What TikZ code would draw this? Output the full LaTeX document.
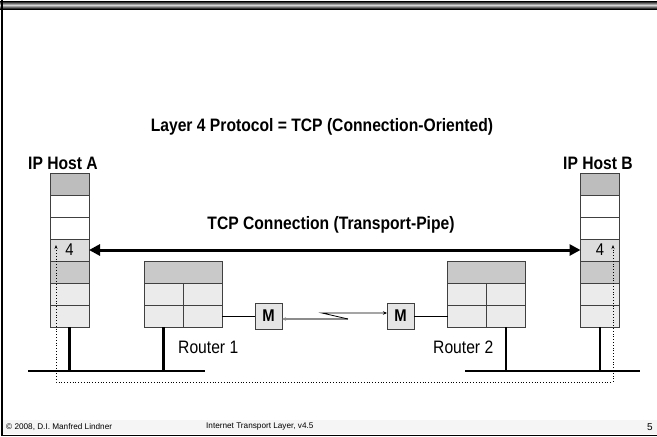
\documentclass[tikz,border=0pt]{standalone}
\usepackage{fontspec}
\setmainfont{Liberation Sans}
\newfontfamily\narrowfont[FakeStretch=0.87]{Liberation Sans}
\usetikzlibrary{chains, positioning, arrows.meta}

\definecolor{celldark}{HTML}{BDBDBD}
\definecolor{cellmid}{HTML}{C9C9C9}
\definecolor{cellfour}{HTML}{DDDDDD}
\definecolor{celllight}{HTML}{EBEBEB}

\tikzset{
  cell/.style={draw=black!75, line width=0.8pt, minimum width=39pt, minimum height=22pt,
    inner sep=0pt, outer sep=0pt, font=\narrowfont\fontsize{17}{17}\selectfont},
  mbox/.style={cell, fill=black!10, minimum width=27pt, minimum height=26pt,
    font=\narrowfont\bfseries\fontsize{17}{17}\selectfont},
  wire/.style={line width=2.5pt},
  lbl/.style={font=\narrowfont\bfseries\fontsize{18}{20}\selectfont, inner sep=0pt},
  rlbl/.style={font=\narrowfont\fontsize{18}{20}\selectfont, inner sep=0pt},
  foot/.style={font=\fontsize{8.2}{9}\selectfont, inner sep=0pt},
  pipe/.style={dotted, line width=0.8pt, {Stealth[length=4pt,width=3pt]}-{Stealth[length=4pt,width=3pt]}},
}

\begin{document}
\begin{tikzpicture}[x=1pt, y=-1pt]
    \useasboundingbox (0,0) rectangle (657,437);

    % slide frame
    \shade[top color=black, bottom color=black, middle color=black!15] (0,1) rectangle (657,9);
    \fill[black!4] (3,420) rectangle (657,434);
    \draw[line width=2pt] (2,0) -- (2,436);
    \draw[line width=1.5pt] (2,435.5) -- (657,435.5);

    \node[lbl] (title) at (322,127) {Layer 4 Protocol = TCP (Connection-Oriented)};
    \node[lbl, anchor=west] (hostA) at (28,163) {IP Host A};
    \node[lbl, anchor=east] (hostB) at (633,163) {IP Host B};
    \node[lbl] (conn) at (331,225) {TCP Connection (Transport-Pipe)};

    \begin{scope}[start chain=going below, node distance=0pt]
      \node[cell, fill=celldark, on chain] (a1) at (69.5,184) {};
      \node[cell, fill=white, on chain] (a2) {};
      \node[cell, fill=white, on chain] (a3) {};
      \node[cell, fill=cellfour, on chain] (a4) {4};
      \node[cell, fill=cellmid, on chain] (a5) {};
      \node[cell, fill=celllight, on chain] (a6) {};
      \node[cell, fill=celllight, on chain] (a7) {};
    \end{scope}

    \begin{scope}[start chain=going below, node distance=0pt]
      \node[cell, fill=celldark, on chain] (b1) at (600,184) {};
      \node[cell, fill=white, on chain] (b2) {};
      \node[cell, fill=white, on chain] (b3) {};
      \node[cell, fill=cellfour, on chain] (b4) {4};
      \node[cell, fill=cellmid, on chain] (b5) {};
      \node[cell, fill=celllight, on chain] (b6) {};
      \node[cell, fill=celllight, on chain] (b7) {};
    \end{scope}

    % routers
    \node[cell, fill=cellmid, minimum width=78pt] (r1top) at (183,272) {};
    \node[cell, fill=celllight] (r1ul) at (163.5,294) {};
    \node[cell, fill=celllight] (r1ur) at (202.5,294) {};
    \node[cell, fill=celllight] (r1ll) at (163.5,316) {};
    \node[cell, fill=celllight] (r1lr) at (202.5,316) {};

    \node[cell, fill=cellmid, minimum width=78pt] (r2top) at (486.5,272) {};
    \node[cell, fill=celllight] (r2ul) at (467,294) {};
    \node[cell, fill=celllight] (r2ur) at (506,294) {};
    \node[cell, fill=celllight] (r2ll) at (467,316) {};
    \node[cell, fill=celllight] (r2lr) at (506,316) {};

    \node[rlbl, anchor=west] (rt1) at (178,347) {Router 1};
    \node[rlbl, anchor=west] (rt2) at (433,347) {Router 2};

    \node[mbox] (m1) at (268.5,316) {M};
    \node[mbox] (m2) at (400.5,316) {M};

    % lines
    \coordinate (busA1) at (28,371);
    \coordinate (busA2) at (205,371);
    \coordinate (busB1) at (465,371);
    \coordinate (busB2) at (640,371);
    \draw[wire] (busA1) -- (busA2);
    \draw[wire] (busB1) -- (busB2);
    \draw[wire] (a7.south) -- (a7.south |- busA1);
    \draw[wire] (r1ll.south) -- (r1ll.south |- busA1);
    \draw[wire] (r2lr.south) -- (r2lr.south |- busB1);
    \draw[wire] (b7.south) -- (b7.south |- busB1);

    \draw[line width=0.8pt] (r1lr.east) -- (m1.west);
    \draw[line width=0.8pt] (m2.east) -- (r2ll.west);

    \coordinate (zz1) at (348,319);
    \coordinate (zz2) at (322,313);
    \draw[black!45, line width=1.2pt, -{Stealth[length=4pt,width=3.5pt]}] (zz1) -- (m1.east |- zz1);
    \draw[line width=0.8pt, -{Stealth[length=4pt,width=3.5pt]}] (zz1) -- (zz2) -- (m2.west |- zz2);

    \draw[line width=3pt, {Triangle[length=11pt,width=11pt]}-{Triangle[length=11pt,width=11pt]}] (a4.east) -- (b4.west);

    \coordinate (pipeA) at (56,245);
    \coordinate (pipeB) at (613,245);
    \coordinate (pipefloor) at (0,382);
    \draw[pipe] (pipeA) -- (pipeA |- pipefloor) -- (pipeB |- pipefloor) -- (pipeB);

    % footer
    \node[foot, anchor=west] (copy) at (6,427) {© 2008, D.I. Manfred Lindner};
    \node[foot, anchor=west] (topic) at (206,427) {Internet Transport Layer, v4.5};
    \node[foot, anchor=east, font=\fontsize{10}{11}\selectfont] (page) at (653,427) {5};
\end{tikzpicture}
\end{document}
